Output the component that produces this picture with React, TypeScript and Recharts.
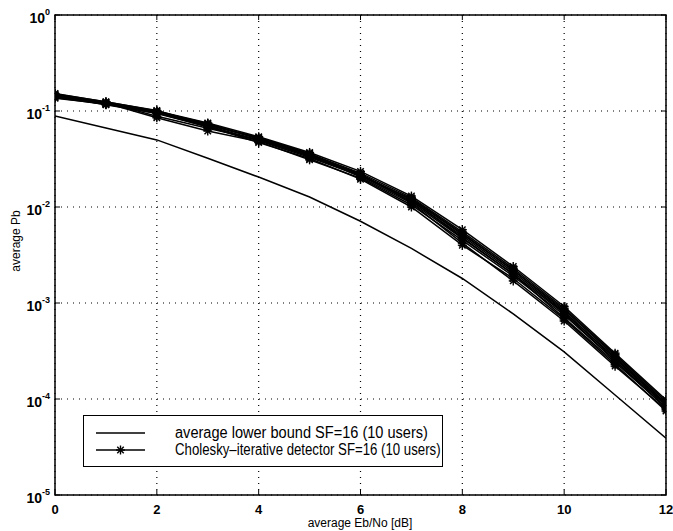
import React from "react";
import {
  LineChart,
  Line,
  XAxis,
  YAxis,
  CartesianGrid,
  ReferenceArea,
} from "recharts";

// Eb/No in dB
const ebno = [0, 1, 2, 3, 4, 5, 6, 7, 8, 9, 10, 11, 12];

const lowerBound = [0.0887, 0.0666, 0.05, 0.0322, 0.0205, 0.0127, 0.0071, 0.0037, 0.0018, 0.00077, 0.00031, 0.00011, 0.000039];

// Cholesky-iterative detector, one curve per user
const user1 = [0.150, 0.125, 0.100, 0.075, 0.054, 0.037, 0.0235, 0.0130, 0.0058, 0.0024, 0.00092, 0.00030, 0.000098];
const user2 = [0.145, 0.122, 0.098, 0.072, 0.052, 0.036, 0.0225, 0.0125, 0.0055, 0.0023, 0.00088, 0.00029, 0.000094];
const user3 = [0.140, 0.120, 0.097, 0.070, 0.050, 0.034, 0.0215, 0.0120, 0.0052, 0.0022, 0.00085, 0.00028, 0.000090];
const user4 = [0.142, 0.118, 0.096, 0.068, 0.049, 0.033, 0.0210, 0.0115, 0.0050, 0.0021, 0.00080, 0.00027, 0.000087];
const user5 = [0.148, 0.121, 0.085, 0.062, 0.048, 0.031, 0.0200, 0.0105, 0.0045, 0.0019, 0.00075, 0.00025, 0.000085];
const user6 = [0.138, 0.117, 0.099, 0.074, 0.051, 0.035, 0.0220, 0.0118, 0.0048, 0.0020, 0.00070, 0.00024, 0.000082];
const user7 = [0.152, 0.124, 0.101, 0.071, 0.053, 0.036, 0.0205, 0.0110, 0.0042, 0.0017, 0.00065, 0.00022, 0.000078];
const user8 = [0.136, 0.119, 0.094, 0.069, 0.047, 0.032, 0.0195, 0.0100, 0.0040, 0.0018, 0.00068, 0.00023, 0.000075];
const user9 = [0.146, 0.123, 0.088, 0.066, 0.050, 0.034, 0.0212, 0.0122, 0.0053, 0.0022, 0.00082, 0.00026, 0.000088];
const user10 = [0.144, 0.116, 0.095, 0.073, 0.052, 0.035, 0.0218, 0.0112, 0.0047, 0.0020, 0.00078, 0.00025, 0.000080];

const users = [user1, user2, user3, user4, user5, user6, user7, user8, user9, user10];

const xTicks = [0, 2, 4, 6, 8, 10, 12];
const yTicks = [1e-5, 1e-4, 1e-3, 1e-2, 1e-1, 1];

const legendLabels = [
  "average lower bound SF=16 (10 users)",
  "Cholesky\u2013iterative detector SF=16 (10 users)",
];
// horizontal squeeze so the sans font looks like the narrow original
const legendSqueeze = [0.91, 0.826];

const data = ebno.map((x, i) => {
  const row: any = { x, lb: lowerBound[i] };
  users.forEach((u, k) => {
    row[`u${k + 1}`] = u[i];
  });
  return row;
});

const FONT = "'Liberation Sans', Arial, Helvetica, sans-serif";
const PLOT_W = 611;
const PLOT_H = 480;

const Asterisk = ({ cx, cy }: any) => {
  if (cx == null || cy == null) return null;
  const r = 4.5;
  const d = r * 0.72;
  return (
    <g stroke="#000" strokeWidth={1.4}>
      <line x1={cx - r} y1={cy} x2={cx + r} y2={cy} />
      <line x1={cx} y1={cy - r} x2={cx} y2={cy + r} />
      <line x1={cx - d} y1={cy - d} x2={cx + d} y2={cy + d} />
      <line x1={cx - d} y1={cy + d} x2={cx + d} y2={cy - d} />
    </g>
  );
};

const YTick = ({ x, y, payload }: any) => {
  const exp = Math.round(Math.log10(payload.value));
  return (
    <g>
      <line x1={x} y1={y} x2={x + 5} y2={y} stroke="#000" />
      <line x1={x + PLOT_W} y1={y} x2={x + PLOT_W - 5} y2={y} stroke="#000" />
      <text
        x={x - 5}
        y={y + 8}
        textAnchor="end"
        fontFamily={FONT}
        fontWeight="bold"
        fontSize={14}
        fill="#000"
      >
        10
        <tspan dy={-8} fontSize={9}>
          {exp}
        </tspan>
      </text>
    </g>
  );
};

const XTick = ({ x, y, payload }: any) => (
  <g>
    <line x1={x} y1={y} x2={x} y2={y - 5} stroke="#000" />
    <line x1={x} y1={y - PLOT_H} x2={x} y2={y - PLOT_H + 5} stroke="#000" />
    <text
      x={x}
      y={y + 19}
      textAnchor="middle"
      fontFamily={FONT}
      fontWeight="bold"
      fontSize={13}
      fill="#000"
    >
      {payload.value}
    </text>
  </g>
);

const App = () => {
  return (
    <div style={{ position: "absolute", left: 0, top: 0, width: 673, height: 531, background: "#fff" }}>
      <LineChart
        width={673}
        height={531}
        data={data}
        margin={{ top: 15, right: 7, bottom: 0, left: 0 }}
      >
        <CartesianGrid stroke="#000" strokeDasharray="1 5" strokeWidth={1.2} />
        <XAxis
          dataKey="x"
          type="number"
          domain={[0, 12]}
          ticks={xTicks}
          allowDataOverflow
          height={36}
          tickSize={0}
          tickMargin={0}
          tickLine={false}
          axisLine={false}
          tick={<XTick />}
          interval={0}
        />
        <YAxis
          scale="log"
          domain={[1e-5, 1]}
          ticks={yTicks}
          allowDataOverflow
          width={55}
          tickSize={0}
          tickMargin={0}
          tickLine={false}
          axisLine={false}
          tick={<YTick />}
          interval={0}
        />
        <ReferenceArea
          x1={0}
          x2={12}
          y1={1e-5}
          y2={1}
          fill="none"
          fillOpacity={0}
          stroke="#000"
          strokeWidth={1.5}
        />
        <Line
          dataKey="lb"
          stroke="#000"
          strokeWidth={1.5}
          dot={false}
          isAnimationActive={false}
          type="linear"
        />
        {users.map((_, k) => (
          <Line
            key={`u${k + 1}`}
            dataKey={`u${k + 1}`}
            stroke="#000"
            strokeWidth={1.5}
            dot={<Asterisk />}
            isAnimationActive={false}
            type="linear"
          />
        ))}
      </LineChart>

      {/* legend box */}
      <div
        style={{
          position: "absolute",
          left: 83,
          top: 415,
          width: 358,
          height: 50,
          border: "1.5px solid #000",
          background: "#fff",
          fontFamily: FONT,
          fontSize: 16,
          lineHeight: "16px",
        }}
      >
        {legendLabels.map((lbl, i) => (
          <div key={lbl} style={{ position: "absolute", left: 0, top: 9 + i * 17, height: 16, width: 358 }}>
            <svg width={60} height={16} style={{ position: "absolute", left: 12, top: 0 }}>
              <line x1={0} y1={8} x2={49} y2={8} stroke="#000" strokeWidth={1.5} />
              {i === 1 && <Asterisk cx={24.5} cy={8} />}
            </svg>
            <span
              style={{
                position: "absolute",
                left: 91,
                top: 0,
                whiteSpace: "nowrap",
                display: "inline-block",
                transform: `scaleX(${legendSqueeze[i]})`,
                transformOrigin: "0 50%",
              }}
            >
              {lbl}
            </span>
          </div>
        ))}
      </div>

      {/* axis titles */}
      <div
        style={{
          position: "absolute",
          left: 0,
          top: 516,
          width: 720,
          textAlign: "center",
          fontFamily: FONT,
          fontSize: 12,
          lineHeight: "14px",
        }}
      >
        average Eb/No [dB]
      </div>
      <div
        style={{
          position: "absolute",
          left: 16,
          top: 241,
          transform: "translate(-50%, -50%) rotate(-90deg)",
          fontFamily: FONT,
          fontSize: 12,
          whiteSpace: "nowrap",
        }}
      >
        average Pb
      </div>
    </div>
  );
};

export default App;
